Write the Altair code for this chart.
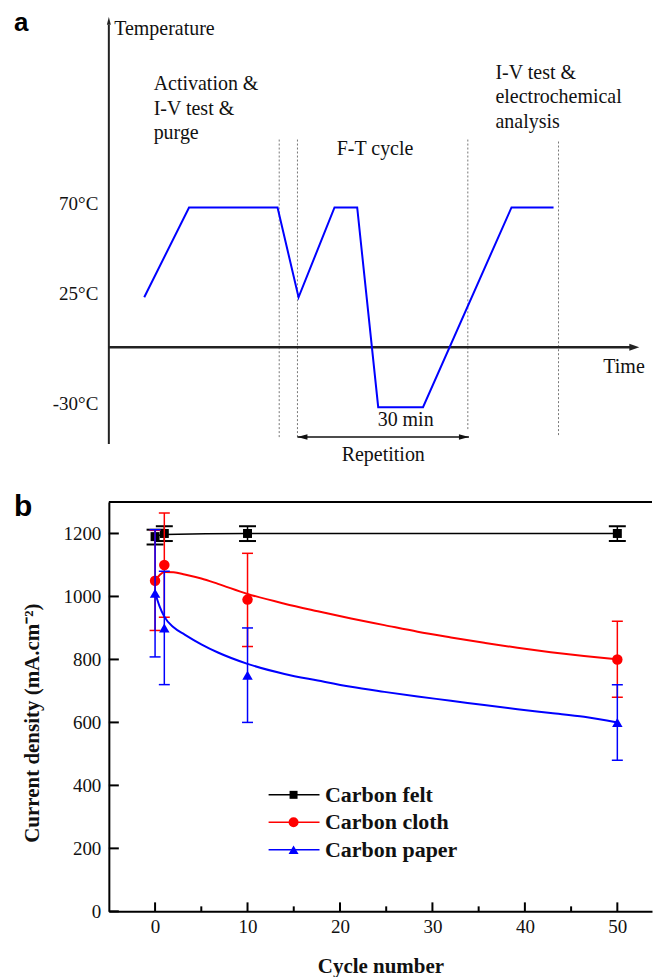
import altair as alt
import pandas as pd

SERIF = "Liberation Serif"
SANS = "Liberation Sans"

# ---------------- panel a : schematic temperature profile ----------------
profile_time = [6.4, 14.5, 30.5, 34.3, 40.8, 44.9, 48.7, 56.8, 72.8, 80.4]
profile_temp = [25, 70, 70, 25, 70, 70, -30, -30, 70, 70]

divider_time = [30.8, 34.1, 64.9, 81.3]
divider_top = [104, 104, 104, 104]
divider_bottom = [-45, -45, -41, -44]

level_temp = [70, 25, -30]
level_label = ["70°C", "25°C", "-30°C"]

note_text = ["Temperature", "Activation &", "I-V test &", "purge", "F-T cycle",
             "I-V test &", "electrochemical", "analysis", "30 min", "Repetition", "Time"]
note_time = [0.96, 8.1, 8.1, 8.1, 41.2, 69.9, 69.9, 69.9, 48.6, 42.1, 89.4]
note_temp = [156.5, 129, 116.5, 104.5, 96.5, 134.5, 122.5, 110, -39.5, -57, -13]

repetition_span = [34.1, 65.1]
repetition_temp = -45
time_axis_end = 95.9
temp_axis_top = 165.5
temp_range = [-48.5, 168.5]
time_range = [0, 98.2]

# ---------------- panel b : current density vs cycle number ----------------
series_names = ["Carbon felt", "Carbon cloth", "Carbon paper"]
series_colors = ["#000000", "#ff0000", "#0000ff"]
series_shapes = ["square", "circle", "triangle-up"]

cycles = [0, 1, 10, 50]
felt_mean = [1190, 1200, 1200, 1200]
felt_lo = [1165, 1176, 1176, 1176]
felt_hi = [1212, 1223, 1223, 1223]
cloth_mean = [1050, 1100, 990, 800]
cloth_lo = [892, 934, 841, 680]
cloth_hi = [1210, 1265, 1137, 921]
paper_mean = [1010, 900, 750, 600]
paper_lo = [808, 720, 600, 480]
paper_hi = [1212, 1080, 900, 720]

felt_fit_x = [0, 1, 10, 50]
felt_fit_y = [1190, 1197, 1200, 1200]
cloth_fit_x = [0, 0.5, 1, 2, 3.2, 5, 6.8, 10, 14, 17.6, 21.2, 24.8, 28.4, 32, 35.6, 39.2, 42.8, 46.4, 50]
cloth_fit_y = [1050, 1068, 1078, 1077, 1070, 1057, 1040, 1008, 977, 953, 930, 909, 888, 870, 853, 837, 823, 811, 800]
paper_fit_x = [0, 0.5, 1, 2, 3.2, 5, 6.8, 10, 14, 17.6, 21.2, 24.8, 28.4, 32, 35.6, 39.2, 42.8, 46.4, 50]
paper_fit_y = [1012, 968, 936, 902, 879, 848, 822, 786, 754, 733, 713, 697, 682, 669, 655, 642, 630, 618, 600]

x_major = [0, 10, 20, 30, 40, 50]
x_minor = [5, 15, 25, 35, 45]
y_major = [0, 200, 400, 600, 800, 1000, 1200]
x_range = [-5, 53.75]
y_range = [0, 1300]

# ======================= build panel a =======================
A_W, A_H = 544, 434
xa = alt.Scale(domain=time_range, nice=False, zero=False)
ya = alt.Scale(domain=temp_range, nice=False, zero=False)
AX = dict(scale=xa, axis=None)
AY = dict(scale=ya, axis=None)

prof_df = pd.DataFrame({"t": profile_time, "T": profile_temp, "o": list(range(len(profile_time)))})
profile = alt.Chart(prof_df).mark_line(color="#0000ff", strokeWidth=2).encode(
    x=alt.X("t:Q", **AX), y=alt.Y("T:Q", **AY), order="o:Q")

div_df = pd.DataFrame({"t": divider_time, "T1": divider_bottom, "T2": divider_top})
dividers = alt.Chart(div_df).mark_rule(color="#777777", strokeWidth=1, strokeDash=[2, 2]).encode(
    x=alt.X("t:Q", **AX), y=alt.Y("T1:Q", **AY), y2="T2:Q")

vaxis = alt.Chart(pd.DataFrame({"t": [0], "T1": [temp_range[0]], "T2": [temp_axis_top - 4]})).mark_rule(
    color="#222222", strokeWidth=2).encode(x=alt.X("t:Q", **AX), y=alt.Y("T1:Q", **AY), y2="T2:Q")
haxis = alt.Chart(pd.DataFrame({"t1": [0], "t2": [time_axis_end - 1], "T": [0]})).mark_rule(
    color="#222222", strokeWidth=2.5).encode(x=alt.X("t1:Q", **AX), x2="t2:Q", y=alt.Y("T:Q", **AY))

RIGHT_TIP = "M0,0L-2,-0.7L-2,0.7Z"
UP_TIP = "M0,0L-0.5,2L0.5,2Z"
R_TIP_S = "M0,0L-2,-0.55L-2,0.55Z"
L_TIP_S = "M0,0L2,-0.55L2,0.55Z"

harrow = alt.Chart(pd.DataFrame({"t": [time_axis_end], "T": [0]})).mark_point(
    shape=RIGHT_TIP, filled=True, size=100, color="#222222", opacity=1).encode(
    x=alt.X("t:Q", **AX), y=alt.Y("T:Q", **AY))
varrow = alt.Chart(pd.DataFrame({"t": [0], "T": [temp_axis_top]})).mark_point(
    shape=UP_TIP, filled=True, size=64, color="#222222", opacity=1).encode(
    x=alt.X("t:Q", **AX), y=alt.Y("T:Q", **AY))

rep_line = alt.Chart(pd.DataFrame({"t1": [repetition_span[0]], "t2": [repetition_span[1]],
                                   "T": [repetition_temp]})).mark_rule(
    color="#111111", strokeWidth=1.5).encode(x=alt.X("t1:Q", **AX), x2="t2:Q", y=alt.Y("T:Q", **AY))
rep_left = alt.Chart(pd.DataFrame({"t": [repetition_span[0]], "T": [repetition_temp]})).mark_point(
    shape=L_TIP_S, filled=True, size=100, color="#111111", opacity=1).encode(
    x=alt.X("t:Q", **AX), y=alt.Y("T:Q", **AY))
rep_right = alt.Chart(pd.DataFrame({"t": [repetition_span[1]], "T": [repetition_temp]})).mark_point(
    shape=R_TIP_S, filled=True, size=100, color="#111111", opacity=1).encode(
    x=alt.X("t:Q", **AX), y=alt.Y("T:Q", **AY))

lvl_df = pd.DataFrame({"T": level_temp, "label": level_label, "t": [-1.9] * len(level_temp)})
levels = alt.Chart(lvl_df).mark_text(align="right", baseline="alphabetic", dy=3, font=SERIF,
                                     fontSize=19, color="#111111").encode(
    x=alt.X("t:Q", **AX), y=alt.Y("T:Q", **AY), text="label:N")

note_df = pd.DataFrame({"t": note_time, "T": note_temp, "label": note_text})
notes = alt.Chart(note_df).mark_text(align="left", baseline="alphabetic", font=SERIF,
                                     fontSize=20, color="#111111").encode(
    x=alt.X("t:Q", **AX), y=alt.Y("T:Q", **AY), text="label:N")

label_a = alt.Chart(pd.DataFrame({"label": ["a"]})).mark_text(
    align="left", baseline="alphabetic", font=SANS, fontWeight="bold", fontSize=26, color="black").encode(
    text="label:N", x=alt.value(-95), y=alt.value(20))

panel_a = alt.layer(dividers, vaxis, haxis, harrow, varrow, rep_line, rep_left, rep_right,
                    profile, levels, notes, label_a).properties(
    width=A_W, height=A_H, view=alt.ViewBackground(stroke="transparent"))

# ======================= build panel b =======================
B_W, B_H = 544, 410
xb = alt.Scale(domain=x_range, nice=False, zero=False)
yb = alt.Scale(domain=y_range, nice=False, zero=False)
xaxis = alt.Axis(values=x_major, ticks=False, domain=True, domainColor="black", domainWidth=2,
                 grid=False, labelPadding=6, format="d",
                 labelFont=SERIF, labelFontSize=19, labelColor="#111111",
                 title="Cycle number", titleFont=SERIF, titleFontSize=21, titleFontWeight="bold",
                 titleColor="#111111", titlePadding=19)
yaxis = alt.Axis(values=y_major, ticks=False, domain=True, domainColor="black", domainWidth=2,
                 grid=False, labelPadding=8, format="d",
                 labelFont=SERIF, labelFontSize=19, labelColor="#111111",
                 title="Current density (mA.cm⁻²)", titleFont=SERIF, titleFontSize=21,
                 titleFontWeight="bold", titleColor="#111111", titlePadding=20, titleY=221)
BX = dict(scale=xb, axis=xaxis)
BY = dict(scale=yb, axis=yaxis)

layers_b = []

# top frame line (the right edge of the frame lies outside the picture)
layers_b.append(alt.Chart(pd.DataFrame({"v": [y_range[1]]})).mark_rule(color="black", strokeWidth=2).encode(
    y=alt.Y("v:Q", **BY), x=alt.value(0), x2=alt.value(B_W)))

ytick_df = pd.DataFrame({"v": y_major})
layers_b.append(alt.Chart(ytick_df).mark_rule(color="black", strokeWidth=2).encode(
    y=alt.Y("v:Q", **BY), x=alt.value(0), x2=alt.value(10)))
xtick_df = pd.DataFrame({"v": x_major})
layers_b.append(alt.Chart(xtick_df).mark_rule(color="black", strokeWidth=2).encode(
    x=alt.X("v:Q", **BX), y=alt.value(B_H), y2=alt.value(B_H - 9)))
xminor_df = pd.DataFrame({"v": x_minor})
layers_b.append(alt.Chart(xminor_df).mark_rule(color="black", strokeWidth=2).encode(
    x=alt.X("v:Q", **BX), y=alt.value(B_H), y2=alt.value(B_H - 5)))

series_data = [
    (felt_mean, felt_lo, felt_hi, felt_fit_x, felt_fit_y, 1.5, 17, 2.0, 81),
    (cloth_mean, cloth_lo, cloth_hi, cloth_fit_x, cloth_fit_y, 2.0, 11, 1.5, 110),
    (paper_mean, paper_lo, paper_hi, paper_fit_x, paper_fit_y, 2.0, 11, 1.5, 110),
]

for i, (mean, lo, hi, fx, fy, lw, capw, capt, msize) in enumerate(series_data):
    col = series_colors[i]
    fit_df = pd.DataFrame({"x": fx, "y": fy})
    layers_b.append(alt.Chart(fit_df).mark_line(color=col, strokeWidth=lw, interpolate="monotone").encode(
        x=alt.X("x:Q", **BX), y=alt.Y("y:Q", **BY)))
    pts = pd.DataFrame({"x": cycles, "y": mean, "lo": lo, "hi": hi})
    layers_b.append(alt.Chart(pts).mark_rule(color=col, strokeWidth=1.5).encode(
        x=alt.X("x:Q", **BX), y=alt.Y("lo:Q", **BY), y2="hi:Q"))
    layers_b.append(alt.Chart(pts).transform_fold(["lo", "hi"], as_=["end", "v"]).mark_tick(
        orient="horizontal", color=col, size=capw, thickness=capt, opacity=1).encode(
        x=alt.X("x:Q", **BX), y=alt.Y("v:Q", **BY)))
    layers_b.append(alt.Chart(pts).mark_point(shape=series_shapes[i], filled=True, size=msize,
                                              color=col, opacity=1).encode(
        x=alt.X("x:Q", **BX), y=alt.Y("y:Q", **BY)))

# legend (drawn inside the plot)
LEG_X1, LEG_X2, LEG_MARK, LEG_TEXT = 160, 211, 185, 216.5
LEG_TOP, LEG_GAP = 293.3, 27.5
leg_sizes = [64, 100, 100]
for i, name in enumerate(series_names):
    row_y = LEG_TOP + i * LEG_GAP
    row = pd.DataFrame({"label": [name]})
    layers_b.append(alt.Chart(row).mark_rule(color=series_colors[i], strokeWidth=1.5).encode(
        x=alt.value(LEG_X1), x2=alt.value(LEG_X2), y=alt.value(row_y)))
    layers_b.append(alt.Chart(row).mark_point(shape=series_shapes[i], filled=True, size=leg_sizes[i],
                                              color=series_colors[i], opacity=1).encode(
        x=alt.value(LEG_MARK), y=alt.value(row_y)))
    layers_b.append(alt.Chart(row).mark_text(align="left", baseline="middle", font=SERIF,
                                             fontWeight="bold", fontSize=22, color="#111111").encode(
        x=alt.value(LEG_TEXT), y=alt.value(row_y), text="label:N"))

layers_b.append(alt.Chart(pd.DataFrame({"label": ["b"]})).mark_text(
    align="left", baseline="alphabetic", font=SANS, fontWeight="bold", fontSize=30, color="black").encode(
    text="label:N", x=alt.value(-95), y=alt.value(14.3)))

panel_b = alt.layer(*layers_b).properties(
    width=B_W, height=B_H, view=alt.ViewBackground(stroke="transparent"))

chart = alt.vconcat(panel_a, panel_b, spacing=58, bounds="flush").properties(
    padding={"left": 5, "top": 0, "right": 0, "bottom": 0}
)

chart.save("out.html", embed_options={"renderer": "svg", "actions": False})
